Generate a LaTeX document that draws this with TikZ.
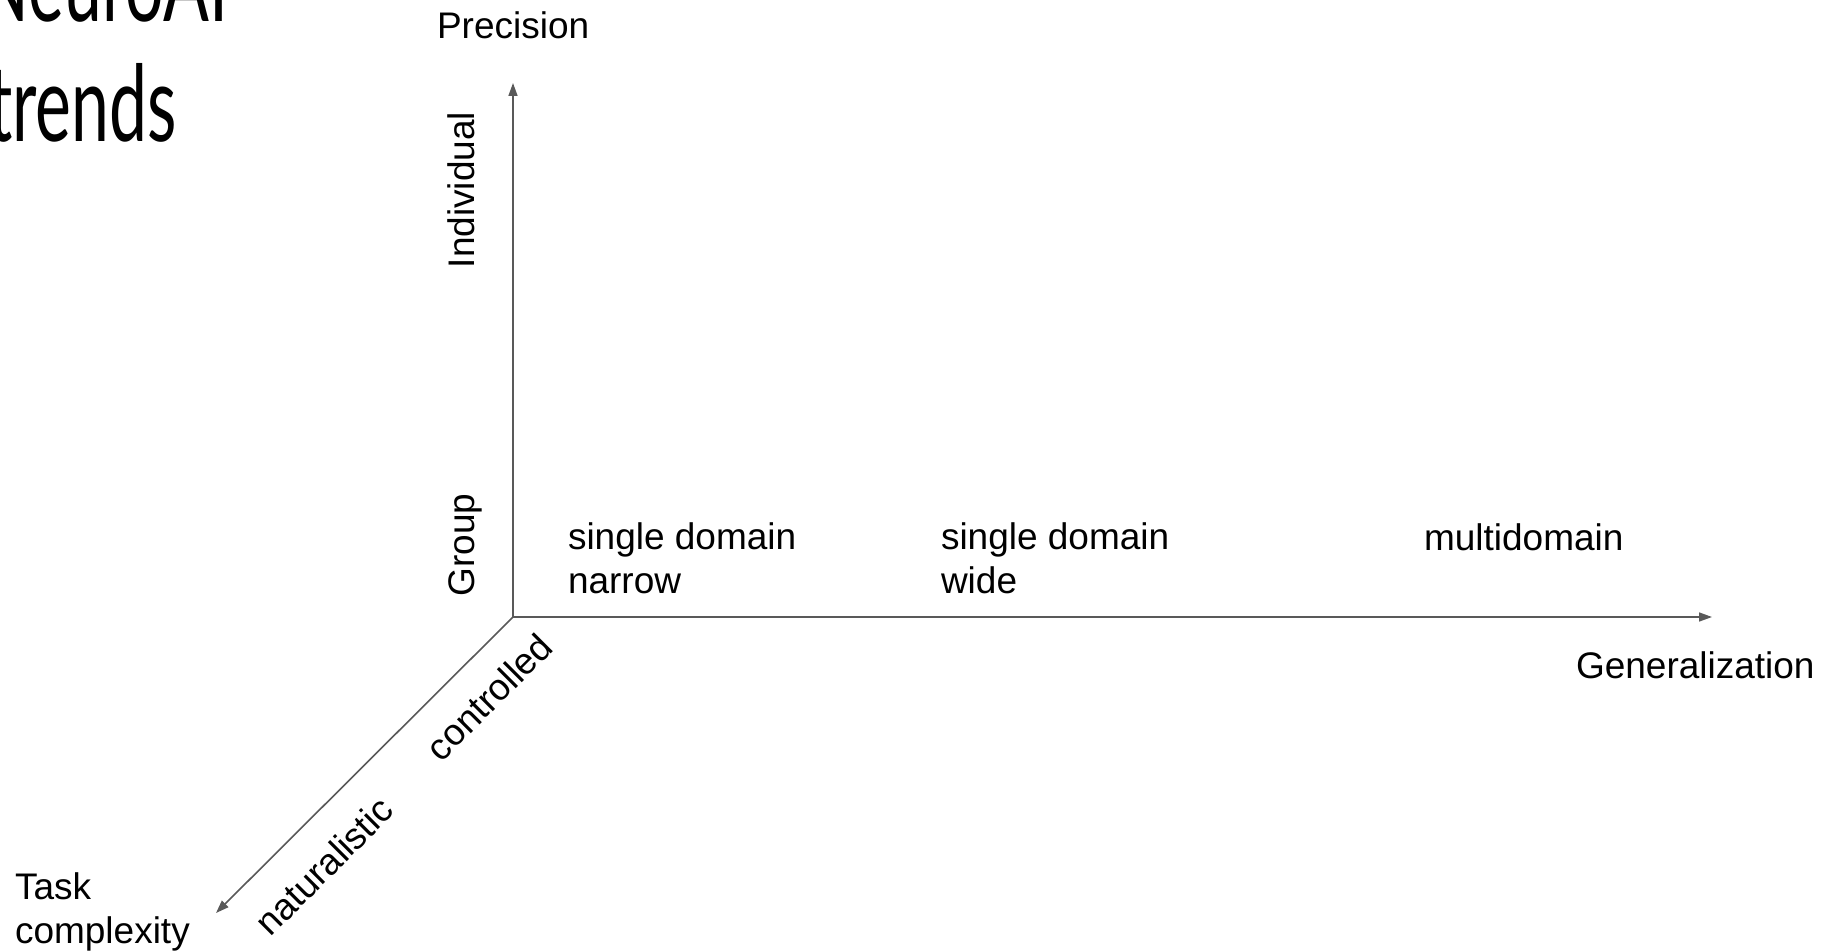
\documentclass[tikz,border=0pt]{standalone}
\usepackage{fontspec}
\setmainfont{Liberation Sans}
\newfontfamily\titlefont[FakeStretch=0.64]{Lato}
\usetikzlibrary{arrows.meta}
\definecolor{axisgray}{HTML}{595959}
\tikzset{
  axis/.style={draw=axisgray, line width=1.6pt, -{Triangle[length=13pt,width=9pt]}},
  lbl/.style={inner sep=0pt, outer sep=0pt, font=\fontsize{37}{43.5}\selectfont, text=black},
  ttl/.style={inner sep=0pt, outer sep=0pt, font=\titlefont\fontsize{106}{120}\selectfont, text=black}
}
\begin{document}
\begin{tikzpicture}[x=1pt,y=-1pt]
\clip (0,0) rectangle (1825,952);
\fill[white] (0,0) rectangle (1825,952);
% title
\node[ttl, anchor=base east] (t1) at (228,22) {NeuroAI};
\node[ttl, anchor=base west] (t2) at (-12,142) {trends};
% axes
\coordinate (O) at (513,617);
\coordinate (Y) at (513,83);
\coordinate (X) at (1712,617);
\coordinate (Z) at (216,913);
\draw[axis] (O) -- (Y);
\draw[axis] (O) -- (X);
\draw[axis] (O) -- (Z);
% labels
\node[lbl, anchor=base west] (prec) at (437,39) {Precision};
\node[lbl, anchor=base west] (gen) at (1576,678) {Generalization};
\node[lbl, anchor=base, rotate=90] (ind) at (474,190) {Individual};
\node[lbl, anchor=base, rotate=90] (grp) at (474,545) {Group};
\node[lbl, anchor=base west, align=left] (sdn) at (568,593) {single domain\\narrow};
\node[lbl, anchor=base west, align=left] (sdw) at (941,593) {single domain\\wide};
\node[lbl, anchor=base west] (md) at (1424,550) {multidomain};
\node[lbl, anchor=base west, align=left] (task) at (15,943) {Task\\complexity};
\node[lbl, rotate=45] (ctl) at (489,697) {controlled};
\node[lbl, rotate=45] (nat) at (324,866) {naturalistic};
\end{tikzpicture}
\end{document}
